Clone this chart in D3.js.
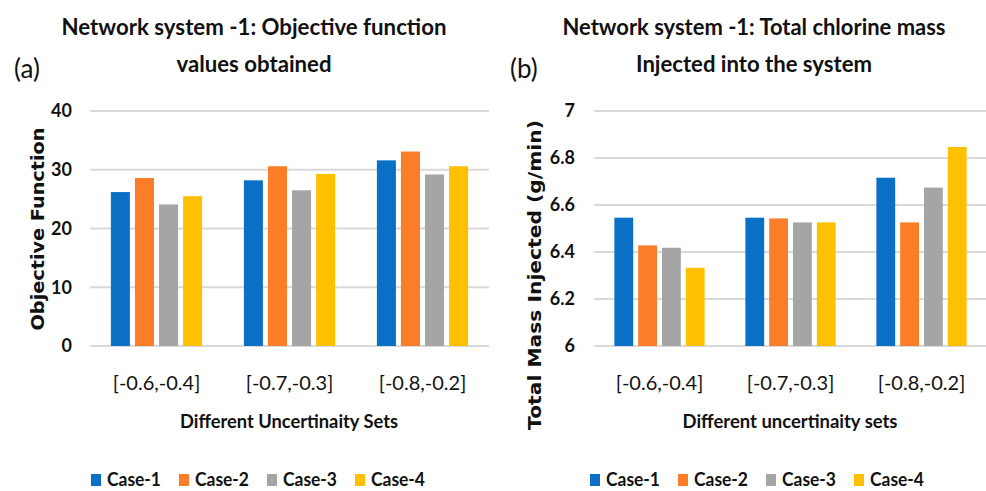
<!DOCTYPE html>
<html>
<head>
<meta charset="utf-8">
<script src="https://cdn.jsdelivr.net/npm/d3@7"></script>
<style>
  html, body { margin: 0; padding: 0; background: #fff; }
  svg { display: block; }
  text { font-family: Lato, "Open Sans", sans-serif; fill: #111; }
</style>
</head>
<body>
<svg id="chart" width="986" height="491"></svg>
<script>
// ---- data ----
const categories = ["[-0.6,-0.4]", "[-0.7,-0.3]", "[-0.8,-0.2]"];
const seriesNames = ["Case-1", "Case-2", "Case-3", "Case-4"];
const seriesColors = ["#0A70C6", "#FB7D27", "#A5A5A5", "#FFC000"];

// panel (a): objective function values, per case across categories
const objCase1 = [26.2, 28.2, 31.6];
const objCase2 = [28.6, 30.6, 33.1];
const objCase3 = [24.1, 26.5, 29.2];
const objCase4 = [25.5, 29.3, 30.6];
const objTicks = [0, 10, 20, 30, 40];

// panel (b): total chlorine mass injected (g/min)
const massCase1 = [6.546, 6.546, 6.716];
const massCase2 = [6.428, 6.543, 6.526];
const massCase3 = [6.418, 6.526, 6.674];
const massCase4 = [6.333, 6.526, 6.847];
const massTicks = [6, 6.2, 6.4, 6.6, 6.8, 7];

const svg = d3.select("#chart");

function drawPanel(cfg) {
  const g = svg.append("g");
  const x0 = d3.scaleBand().domain(categories).range([cfg.x0, cfg.x1])
    .paddingInner(cfg.pad).paddingOuter(cfg.pad / 2);
  const x1 = d3.scaleBand().domain(seriesNames).range([0, x0.bandwidth()])
    .paddingInner(0.21).paddingOuter(0);
  const y = d3.scaleLinear().domain(cfg.yDomain).range([346, 111]);

  // gridlines
  g.append("g")
    .selectAll("line").data(cfg.ticks).join("line")
    .attr("x1", cfg.x0).attr("x2", cfg.gridEnd)
    .attr("y1", d => y(d)).attr("y2", d => y(d))
    .attr("stroke", "#d9d9d9").attr("stroke-width", 2);

  // y axis labels
  const yAxis = d3.axisLeft(y).tickValues(cfg.ticks).tickSize(0).tickPadding(0)
    .tickFormat(d3.format(cfg.fmt));
  const ya = g.append("g").attr("transform", `translate(${cfg.yLabelX},0)`).call(yAxis);
  ya.select(".domain").remove();
  ya.selectAll("text")
    .style("font-family", "Lato, sans-serif")
    .style("font-weight", 700).style("font-size", "18px").attr("fill", "#111");

  // bars
  const groups = g.append("g").selectAll("g").data(categories).join("g")
    .attr("transform", d => `translate(${x0(d)},0)`);
  groups.selectAll("rect")
    .data((c, ci) => seriesNames.map((s, si) => ({ s, si, v: cfg.series[si][ci] })))
    .join("rect")
    .attr("x", d => x1(d.s))
    .attr("width", x1.bandwidth())
    .attr("y", d => y(d.v))
    .attr("height", d => y(cfg.yDomain[0]) - y(d.v))
    .attr("fill", d => seriesColors[d.si]);

  // x axis labels
  const xAxis = d3.axisBottom(x0).tickSize(0).tickPadding(0);
  const xa = g.append("g").attr("transform", `translate(0,390)`).call(xAxis);
  xa.select(".domain").remove();
  xa.selectAll("text").attr("dy", 0)
    .style("font-family", "Lato, sans-serif")
    .style("font-size", "20px").attr("fill", "#111");

  // titles
  g.append("text").attr("x", cfg.titleX).attr("y", 35).attr("text-anchor", "middle")
    .attr("textLength", cfg.t1Len).attr("lengthAdjust", "spacingAndGlyphs")
    .style("font-size", "23px").style("font-weight", 700).text(cfg.title1);
  g.append("text").attr("x", cfg.titleX).attr("y", 72).attr("text-anchor", "middle")
    .attr("textLength", cfg.t2Len).attr("lengthAdjust", "spacingAndGlyphs")
    .style("font-size", "23px").style("font-weight", 700).text(cfg.title2);
  g.append("text").attr("x", cfg.labelX).attr("y", 78)
    .style("font-size", "26px").text(cfg.label);

  // axis titles
  g.append("text").attr("x", cfg.xTitleX).attr("y", 428).attr("text-anchor", "middle")
    .attr("textLength", cfg.xTitleLen).attr("lengthAdjust", "spacingAndGlyphs")
    .style("font-size", "19px").style("font-weight", 700).text(cfg.xTitle);
  g.append("text")
    .attr("transform", `translate(${cfg.yTitleX},${cfg.yTitleY}) rotate(-90)`)
    .attr("text-anchor", "middle")
    .attr("textLength", cfg.yTitleLen).attr("lengthAdjust", "spacingAndGlyphs")
    .style("font-family", "'DejaVu Sans', sans-serif")
    .style("font-size", "18px").style("font-weight", 700).text(cfg.yTitle);

  // legend
  const lg = g.append("g").selectAll("g").data(seriesNames).join("g")
    .attr("transform", (d, i) => `translate(${cfg.legendX + i * 88},0)`);
  lg.append("rect").attr("x", 0).attr("y", 474).attr("width", 10).attr("height", 12)
    .attr("fill", (d, i) => seriesColors[i]);
  lg.append("text").attr("x", 16).attr("y", 486)
    .attr("textLength", 54).attr("lengthAdjust", "spacingAndGlyphs")
    .style("font-size", "19px").style("font-weight", 700).text(d => d);
}

drawPanel({
  x0: 90, x1: 489, gridEnd: 489, pad: 0.314,
  yDomain: [0, 40], ticks: objTicks, fmt: "d",
  series: [objCase1, objCase2, objCase3, objCase4],
  yLabelX: 72,
  title1: "Network system -1: Objective  function", title2: "values obtained",
  t1Len: 385, t2Len: 155,
  titleX: 254, label: "(a)", labelX: 14,
  xTitle: "Different Uncertinaity Sets", xTitleX: 289, xTitleLen: 218,
  yTitle: "Objective Function", yTitleX: 44, yTitleY: 229, yTitleLen: 203,
  legendX: 91
});

drawPanel({
  x0: 594, x1: 987, gridEnd: 986, pad: 0.311,
  yDomain: [6, 7], ticks: massTicks, fmt: "",
  series: [massCase1, massCase2, massCase3, massCase4],
  yLabelX: 575,
  title1: "Network system -1: Total chlorine mass", title2: "Injected into the system",
  t1Len: 383, t2Len: 236,
  titleX: 754, label: "(b)", labelX: 510,
  xTitle: "Different uncertinaity sets", xTitleX: 790, xTitleLen: 215,
  yTitle: "Total Mass Injected (g/min)", yTitleX: 541, yTitleY: 275, yTitleLen: 310,
  legendX: 590
});
</script>
</body>
</html>
